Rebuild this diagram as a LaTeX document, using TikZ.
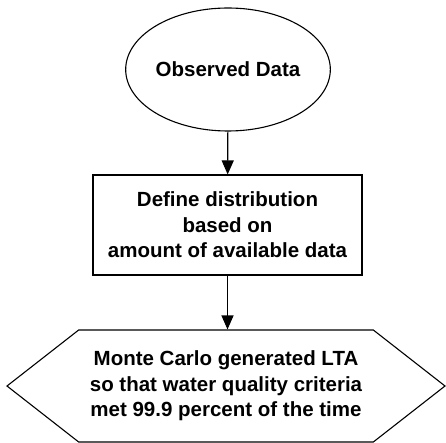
\documentclass[tikz,border=0pt]{standalone}
\usepackage{fontspec}
\setmainfont{Liberation Sans}
\usetikzlibrary{shapes.geometric,shapes.symbols,arrows.meta}

\begin{document}
\begin{tikzpicture}[line width=1.1pt,
  flow/.style={-{Triangle[length=14pt,width=12pt]}},
  boxtext/.style={font=\fontsize{20.5}{25.5}\selectfont\bfseries, align=center, inner sep=0pt},
  start/.style={ellipse, draw, boxtext, minimum width=204pt, minimum height=123pt},
  process/.style={rectangle, draw, boxtext, minimum width=269pt, minimum height=100pt},
  result/.style={signal, signal to=east and west, signal pointer angle=76, draw, boxtext, minimum width=438pt, minimum height=112pt}]
	\useasboundingbox (0pt,0pt) rectangle (446pt,-443pt);
	\node[start] (obs) at (228pt,-69.5pt) {Observed Data};
	\node[process] (dist) at (227.5pt,-225pt) {Define distribution\\based on\\amount of available data};
	\node[result] (lta) at (226pt,-386pt) {Monte Carlo generated LTA\\so that water quality criteria\\met 99.9 percent of the time};
	\draw[flow] (obs) -- (dist);
	\draw[flow] (dist) -- (dist |- lta.north);
\end{tikzpicture}
\end{document}
